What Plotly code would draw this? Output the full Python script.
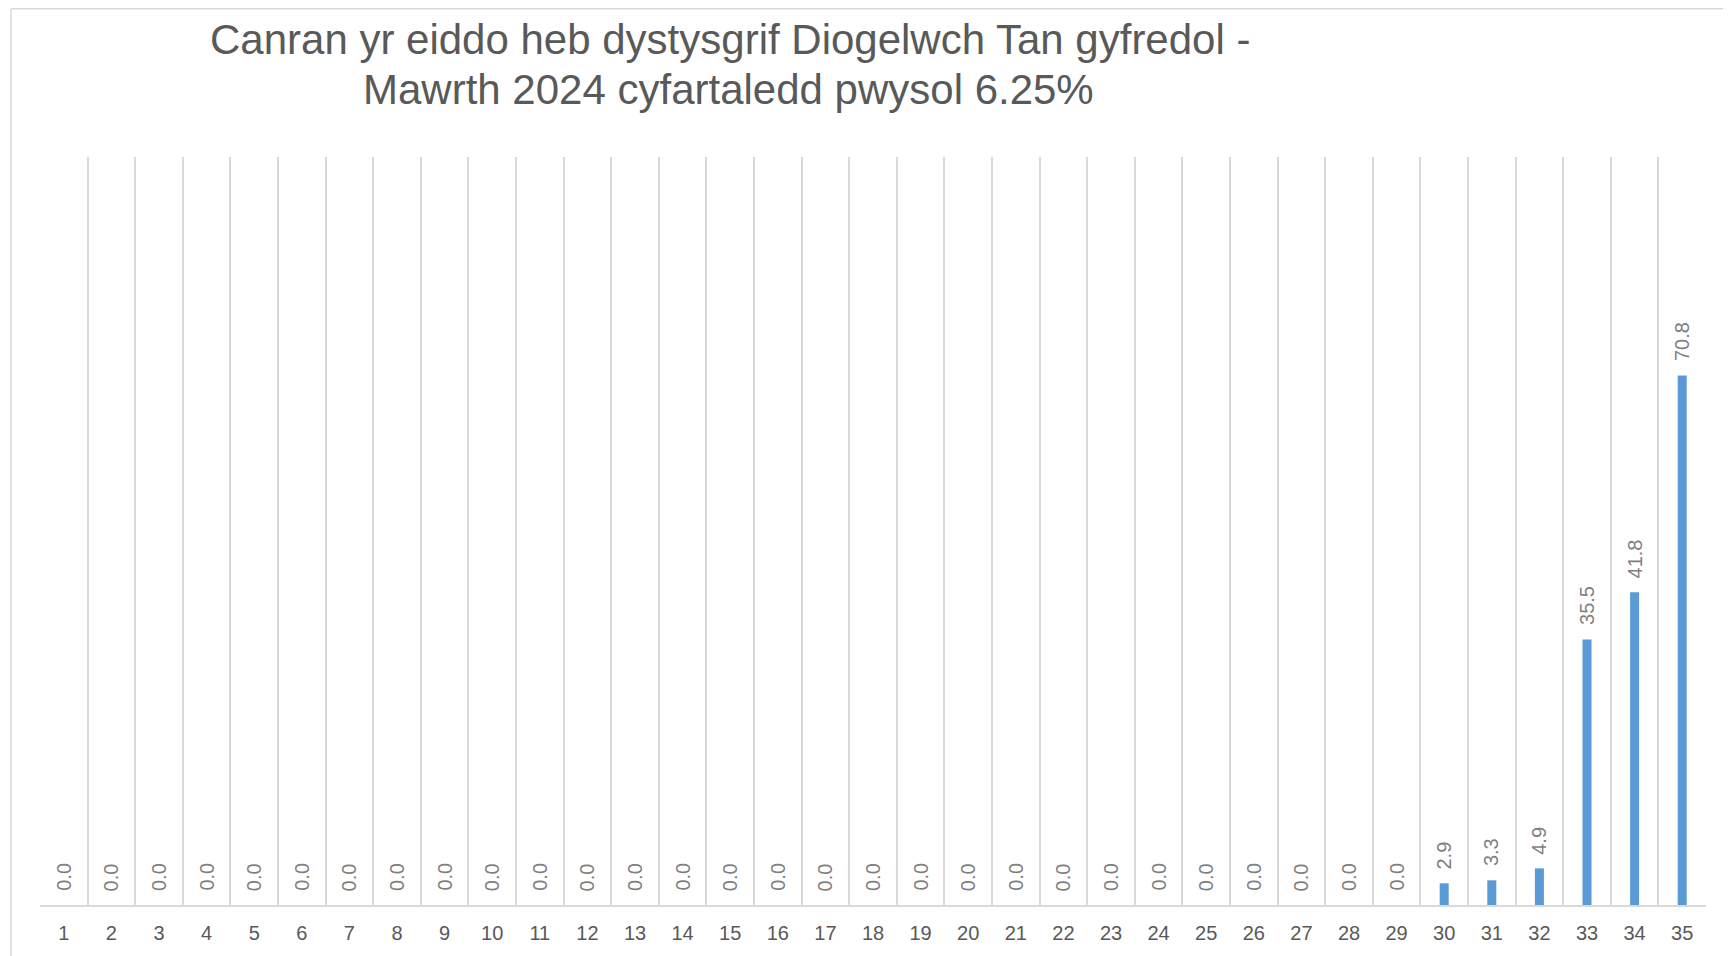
import plotly.graph_objects as go

categories = list(range(1, 36))
tick_labels = [str(c) for c in categories]
values = [0.0] * 29 + [2.9, 3.3, 4.9, 35.5, 41.8, 70.8]
labels = [f"{v:.1f}" for v in values]

title_line1 = "Canran yr eiddo heb dystysgrif Diogelwch Tan gyfredol -"
title_line2 = "Mawrth 2024 cyfartaledd pwysol 6.25%"

FONT = "Arial, Liberation Sans, sans-serif"
# page body has an 8px default margin; figure coordinates = reference - 8
W, H = 1723, 948
L, R, T, B = 32, 25, 149, 51
pw = W - L - R
ph = H - T - B

fig = go.Figure()
fig.add_trace(go.Bar(
    x=categories, y=values,
    marker=dict(color="#5b9bd5", line=dict(width=0)),
    hoverinfo="x+y",
))

for c, v, lab in zip(categories, values, labels):
    fig.add_annotation(
        x=c, y=v, text=lab, textangle=-90, showarrow=False,
        xanchor="center", yanchor="bottom", yshift=12,
        font=dict(family=FONT, size=20, color="#7f7f7f"),
    )

def px_x(p):
    return (p - L) / pw

def px_y(p):
    return (H - B - p) / ph

fig.add_annotation(text=title_line1, xref="paper", yref="paper",
                   x=px_x(722), y=px_y(32), xanchor="center", yanchor="middle",
                   showarrow=False, font=dict(family=FONT, size=42, color="#595959"))
fig.add_annotation(text=title_line2, xref="paper", yref="paper",
                   x=px_x(720), y=px_y(81), xanchor="center", yanchor="middle",
                   showarrow=False, font=dict(family=FONT, size=42, color="#595959"))

fig.add_shape(type="line", xref="paper", yref="paper",
              x0=px_x(3), x1=px_x(3), y0=px_y(H + 20), y1=px_y(0.75),
              line=dict(color="#d9d9d9", width=1.5))
fig.add_shape(type="line", xref="paper", yref="paper",
              x0=px_x(3), x1=px_x(W + 20), y0=px_y(0.75), y1=px_y(0.75),
              line=dict(color="#d9d9d9", width=1.5))

boundaries = [c - 0.5 for c in categories] + [categories[-1] + 0.5]

fig.update_layout(
    width=W, height=H,
    margin=dict(l=L, r=R, t=T, b=B, autoexpand=False),
    paper_bgcolor="white", plot_bgcolor="white",
    bargap=0.81,
    showlegend=False,
    xaxis=dict(
        range=[0.5, 35.5],
        tickmode="array", tickvals=categories, ticktext=tick_labels,
        showgrid=False, zeroline=False,
        minor=dict(tickmode="array", tickvals=boundaries, showgrid=True,
                   gridcolor="#d9d9d9", gridwidth=1.5, ticks=""),
        showline=True, linecolor="#d9d9d9", linewidth=2,
        ticks="", ticklen=0, ticklabelstandoff=9,
        tickfont=dict(family=FONT, size=20, color="#595959"),
        fixedrange=True,
    ),
    yaxis=dict(
        range=[0, 100], visible=False, showgrid=False, zeroline=False, fixedrange=True,
    ),
)

fig.write_html("out.html")
